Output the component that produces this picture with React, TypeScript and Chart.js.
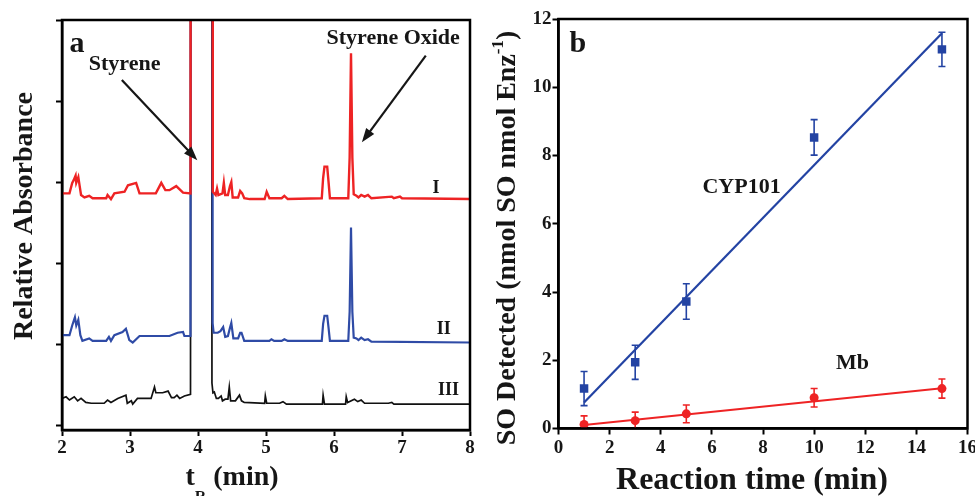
import React, { useEffect, useRef } from 'react';
import { Chart, registerables } from 'chart.js';

Chart.register(...registerables);

const SERIF = '"Liberation Serif", "Times New Roman", Times, serif';
const RED = '#ee2324';
const BLUE_A = '#2f4ba6';
const BLUE_B = '#2343a3';
const INK = '#161616';

// ---------------- Panel a : chromatograms (t_R in min, relative absorbance) ----------------
const traceI_t = [2.00, 2.11, 2.15, 2.17, 2.20, 2.21, 2.24, 2.26, 2.28, 2.33, 2.40, 2.45, 2.65, 2.67, 2.72, 2.77, 2.92, 2.97, 3.09, 3.14, 3.38, 3.46, 3.52, 3.58, 3.68, 3.78, 3.89,
  3.90, 4.21,
  4.215, 4.22, 4.26, 4.28, 4.30, 4.36, 4.38, 4.40, 4.44, 4.47, 4.49, 4.51, 4.59, 4.62, 4.65, 4.68, 4.76, 4.98, 5.01, 5.05, 5.23, 5.27, 5.32, 5.82, 5.84, 5.86, 5.90, 5.92, 5.94,
  6.21, 6.23, 6.25, 6.27, 6.29, 6.33, 6.36, 6.40, 6.45, 6.50, 6.55, 6.85, 6.88, 6.97, 7.00, 8.00];
const traceI_abs = [2.86, 2.86, 2.99, 3.02, 3.08, 2.99, 3.06, 2.95, 2.84, 2.81, 2.83, 2.80, 2.80, 2.84, 2.79, 2.86, 2.88, 2.96, 2.99, 2.86, 2.86, 2.99, 2.90, 2.90, 2.95, 2.87, 2.86,
  20, 20,
  2.99, 2.88, 2.84, 2.92, 2.84, 2.86, 2.99, 2.84, 2.84, 2.95, 3.00, 2.81, 2.81, 2.89, 2.86, 2.80, 2.79, 2.79, 2.88, 2.80, 2.80, 2.83, 2.79, 2.80, 3.05, 3.19, 3.19, 3.00, 2.80,
  2.80, 3.30, 4.59, 3.30, 2.85, 2.83, 2.81, 2.84, 2.82, 2.84, 2.80, 2.82, 2.80, 2.82, 2.80, 2.79];

const traceII_t = [2.00, 2.11, 2.15, 2.17, 2.19, 2.21, 2.24, 2.27, 2.30, 2.40, 2.45, 2.65, 2.69, 2.72, 2.77, 2.89, 2.94, 2.99, 3.04, 3.14, 3.58, 3.70, 3.78, 3.80, 3.89,
  3.90, 4.21,
  4.215, 4.23, 4.29, 4.33, 4.37, 4.40, 4.44, 4.47, 4.49, 4.52, 4.59, 4.62, 4.64, 4.68, 4.76, 5.05, 5.08, 5.12, 5.23, 5.27, 5.32, 5.82, 5.84, 5.86, 5.90, 5.92, 5.94,
  6.21, 6.23, 6.25, 6.27, 6.29, 6.33, 6.36, 6.40, 6.45, 6.50, 6.55, 8.00];
const traceII_abs = [1.11, 1.11, 1.23, 1.28, 1.33, 1.23, 1.30, 1.11, 1.04, 1.07, 1.04, 1.04, 1.09, 1.04, 1.11, 1.15, 1.19, 1.05, 1.02, 1.10, 1.10, 1.14, 1.15, 1.10, 1.10,
  20, 20,
  1.26, 1.14, 1.14, 1.16, 1.21, 1.09, 1.10, 1.20, 1.26, 1.07, 1.07, 1.14, 1.14, 1.04, 1.04, 1.04, 1.06, 1.04, 1.04, 1.06, 1.04, 1.04, 1.25, 1.35, 1.35, 1.20, 1.04,
  1.04, 1.40, 2.44, 1.40, 1.08, 1.07, 1.05, 1.08, 1.05, 1.06, 1.03, 1.02];

const traceIII_t = [2.00, 2.06, 2.11, 2.18, 2.23, 2.28, 2.35, 2.43, 2.62, 2.67, 2.72, 2.82, 2.94, 2.96, 3.02, 3.04, 3.11, 3.31, 3.36, 3.38, 3.48, 3.56, 3.61, 3.65, 3.69, 3.73, 3.80, 3.89,
  3.90, 4.20,
  4.205, 4.22, 4.24, 4.27, 4.30, 4.34, 4.36, 4.40, 4.44, 4.46, 4.48, 4.55, 4.61, 4.64, 4.68, 4.98, 4.99, 5.01, 5.20, 5.25, 5.30, 5.83, 5.84, 5.86, 6.17, 6.18, 6.20, 6.30, 6.35, 6.40, 6.45, 6.80, 6.85, 6.88, 8.00];
const traceIII_abs = [0.33, 0.35, 0.31, 0.35, 0.30, 0.33, 0.28, 0.27, 0.27, 0.31, 0.28, 0.33, 0.37, 0.27, 0.30, 0.26, 0.33, 0.33, 0.47, 0.40, 0.40, 0.42, 0.34, 0.34, 0.37, 0.33, 0.36, 0.38,
  20, 20,
  0.52, 0.40, 0.41, 0.33, 0.33, 0.36, 0.30, 0.32, 0.32, 0.47, 0.30, 0.30, 0.37, 0.30, 0.28, 0.27, 0.36, 0.27, 0.27, 0.29, 0.26, 0.26, 0.37, 0.26, 0.26, 0.35, 0.28, 0.32, 0.29, 0.31, 0.27, 0.27, 0.28, 0.26, 0.26];

const tickA_x = [2, 3, 4, 5, 6, 7, 8];
const tickA_y = [0, 1, 2, 3, 4, 5];

// ---------------- Panel b : SO detected vs reaction time ----------------
const reactionTime = [1, 3, 5, 10, 15];
const cyp101_SO = [1.17, 1.94, 3.72, 8.53, 11.11];
const cyp101_err = [0.5, 0.5, 0.52, 0.52, 0.5];
const mb_SO = [0.12, 0.23, 0.43, 0.90, 1.17];
const mb_err = [0.25, 0.25, 0.26, 0.27, 0.28];
const fit_t = [1, 15];
const cyp101_fit = [0.76, 11.58];
const mb_fit = [0.10, 1.18];

const tickB_x = [0, 2, 4, 6, 8, 10, 12, 14, 16];
const tickB_y = [0, 2, 4, 6, 8, 10, 12];

const pairs = (xs: number[], ys: number[]) => xs.map((x, i) => ({ x, y: ys[i] }));
const bold = (size: number) => `bold ${size}px ${SERIF}`;

type Part = { text: string; size: number; dy: number };
function drawParts(ctx: CanvasRenderingContext2D, parts: Part[], cx: number, cy: number, angle: number) {
  ctx.save();
  ctx.translate(cx, cy);
  ctx.rotate(angle);
  ctx.textAlign = 'left';
  ctx.textBaseline = 'alphabetic';
  ctx.fillStyle = INK;
  let total = 0;
  const w = parts.map((p) => {
    ctx.font = bold(p.size);
    const m = ctx.measureText(p.text).width;
    total += m;
    return m;
  });
  let x = -total / 2;
  parts.forEach((p, i) => {
    ctx.font = bold(p.size);
    ctx.fillText(p.text, x, p.dy);
    x += w[i];
  });
  ctx.restore();
}

function drawArrow(ctx: CanvasRenderingContext2D, x1: number, y1: number, x2: number, y2: number) {
  const a = Math.atan2(y2 - y1, x2 - x1);
  const L = 14, W = 5;
  ctx.save();
  ctx.strokeStyle = INK;
  ctx.fillStyle = INK;
  ctx.lineWidth = 2.2;
  ctx.beginPath();
  ctx.moveTo(x1, y1);
  ctx.lineTo(x2 - L * 0.8 * Math.cos(a), y2 - L * 0.8 * Math.sin(a));
  ctx.stroke();
  ctx.beginPath();
  ctx.moveTo(x2, y2);
  ctx.lineTo(x2 - L * Math.cos(a) + W * Math.sin(a), y2 - L * Math.sin(a) - W * Math.cos(a));
  ctx.lineTo(x2 - L * Math.cos(a) - W * Math.sin(a), y2 - L * Math.sin(a) + W * Math.cos(a));
  ctx.closePath();
  ctx.fill();
  ctx.restore();
}

function label(ctx: CanvasRenderingContext2D, text: string, px: number, py: number, size: number, align: CanvasTextAlign) {
  ctx.save();
  ctx.font = bold(size);
  ctx.fillStyle = INK;
  ctx.textAlign = align;
  ctx.textBaseline = 'alphabetic';
  ctx.fillText(text, px, py);
  ctx.restore();
}

function frame(chart: any) {
  const { ctx, chartArea: a } = chart;
  ctx.save();
  ctx.strokeStyle = '#000';
  ctx.lineWidth = 2.5;
  ctx.strokeRect(a.left, a.top, a.right - a.left, a.bottom - a.top);
  ctx.restore();
}

const panelAPlugin = {
  id: 'panelA',
  afterDraw(chart: any) {
    const { ctx, scales } = chart;
    const X = (v: number) => scales.x.getPixelForValue(v);
    const Y = (v: number) => scales.y.getPixelForValue(v);
    frame(chart);
    label(ctx, 'a', X(2.11), Y(4.60), 30, 'left');
    label(ctx, 'Styrene', X(2.92), Y(4.38), 22, 'center');
    label(ctx, 'Styrene Oxide', X(6.87), Y(4.70), 22, 'center');
    label(ctx, 'I', X(7.45), Y(2.86), 18, 'left');
    label(ctx, 'II', X(7.51), Y(1.12), 18, 'left');
    label(ctx, 'III', X(7.53), Y(0.37), 18, 'left');
    drawArrow(ctx, X(2.88), Y(4.26), X(3.99), Y(3.27));
    drawArrow(ctx, X(7.35), Y(4.56), X(6.41), Y(3.49));
    // axis titles
    drawParts(ctx, [
      { text: 't', size: 28, dy: 0 },
      { text: 'R', size: 16, dy: 17 },
      { text: ' (min)', size: 28, dy: 0 },
    ], 232, 485, 0);
    drawParts(ctx, [{ text: 'Relative Absorbance', size: 28, dy: 0 }], 32, 216, -Math.PI / 2);
  },
};

const errorBarPlugin = {
  id: 'errorBars',
  beforeDatasetsDraw(chart: any) {
    const { ctx, chartArea: a, scales } = chart;
    const sets: [number[], number[], string][] = [
      [cyp101_SO, cyp101_err, BLUE_B],
      [mb_SO, mb_err, RED],
    ];
    ctx.save();
    ctx.beginPath();
    ctx.rect(a.left, a.top - 3, a.right - a.left, a.bottom - a.top + 3);
    ctx.clip();
    sets.forEach(([vals, errs, col]) => {
      ctx.strokeStyle = col;
      ctx.lineWidth = 1.6;
      reactionTime.forEach((t, i) => {
        const px = scales.x.getPixelForValue(t);
        const top = scales.y.getPixelForValue(vals[i] + errs[i]);
        const bot = scales.y.getPixelForValue(vals[i] - errs[i]);
        ctx.beginPath();
        ctx.moveTo(px, top);
        ctx.lineTo(px, bot);
        ctx.moveTo(px - 3.5, top);
        ctx.lineTo(px + 3.5, top);
        ctx.moveTo(px - 3.5, bot);
        ctx.lineTo(px + 3.5, bot);
        ctx.stroke();
      });
    });
    ctx.restore();
  },
};

const panelBPlugin = {
  id: 'panelB',
  afterDraw(chart: any) {
    const { ctx, scales } = chart;
    const X = (v: number) => scales.x.getPixelForValue(v);
    const Y = (v: number) => scales.y.getPixelForValue(v);
    frame(chart);
    label(ctx, 'b', X(0.43), Y(11.03), 30, 'left');
    label(ctx, 'CYP101', X(7.16), Y(6.89), 22, 'center');
    label(ctx, 'Mb', X(11.5), Y(1.73), 22, 'center');
    drawParts(ctx, [{ text: 'Reaction time (min)', size: 32, dy: 0 }], 272, 489, 0);
    drawParts(ctx, [
      { text: 'SO Detected (nmol SO nmol Enz', size: 28, dy: 0 },
      { text: '-1', size: 17, dy: -12 },
      { text: ')', size: 28, dy: 0 },
    ], 35, 238, -Math.PI / 2);
  },
};

function axis(min: number, max: number, ticks: number[], size: number | null, fixed: { w?: number; h?: number }, pad: number) {
  return {
    type: 'linear',
    min,
    max,
    afterBuildTicks: (s: any) => {
      s.ticks = ticks.map((v) => ({ value: v }));
    },
    afterFit: (s: any) => {
      if (fixed.w !== undefined) s.width = fixed.w;
      if (fixed.h !== undefined) s.height = fixed.h;
      s.paddingLeft = 0;
      s.paddingRight = 0;
      s.paddingTop = 0;
      s.paddingBottom = 0;
    },
    grid: { display: true, drawOnChartArea: false, drawTicks: true, tickLength: 6, tickColor: '#000', tickWidth: 2 },
    border: { display: true, color: '#000', width: 2.5 },
    ticks: {
      color: INK,
      font: { family: SERIF, size: size || 12, weight: 'bold' },
      padding: pad,
      maxRotation: 0,
      autoSkip: false,
      callback: (v: any) => (size ? String(v) : ''),
    },
  };
}

export default function App() {
  const refA = useRef<HTMLCanvasElement | null>(null);
  const refB = useRef<HTMLCanvasElement | null>(null);

  useEffect(() => {
    const lineDs = (xs: number[], ys: number[], color: string, width: number) => ({
      data: pairs(xs, ys),
      borderColor: color,
      backgroundColor: color,
      borderWidth: width,
      pointRadius: 0,
      tension: 0,
      fill: false,
    });

    const chartA = new Chart(refA.current as HTMLCanvasElement, {
      type: 'line',
      data: {
        datasets: [
          lineDs(traceI_t, traceI_abs, RED, 2.4),
          lineDs(traceII_t, traceII_abs, BLUE_A, 2.2),
          lineDs(traceIII_t, traceIII_abs, '#111111', 1.7),
        ],
      },
      options: {
        animation: false,
        responsive: false,
        maintainAspectRatio: false,
        layout: { padding: { left: 0, right: 10, top: 20, bottom: 0 } },
        plugins: { legend: { display: false }, tooltip: { enabled: false } },
        scales: {
          x: axis(2, 8, tickA_x, 19, { h: 66 }, 1),
          y: axis(-0.06, 5, tickA_y, null, { w: 62 }, 0),
        },
      } as any,
      plugins: [panelAPlugin],
    } as any);

    const chartB = new Chart(refB.current as HTMLCanvasElement, {
      type: 'line',
      data: {
        datasets: [
          {
            data: pairs(reactionTime, cyp101_SO),
            showLine: false,
            pointStyle: 'rect',
            pointRadius: 6,
            backgroundColor: BLUE_B,
            borderColor: BLUE_B,
            borderWidth: 0,
          },
          {
            data: pairs(reactionTime, mb_SO),
            showLine: false,
            pointStyle: 'circle',
            pointRadius: 4.5,
            backgroundColor: RED,
            borderColor: RED,
            borderWidth: 0,
          },
          lineDs(fit_t, cyp101_fit, BLUE_B, 2.2),
          lineDs(fit_t, mb_fit, RED, 2.0),
        ],
      },
      options: {
        animation: false,
        responsive: false,
        maintainAspectRatio: false,
        layout: { padding: { left: 0, right: 7.5, top: 19, bottom: 0 } },
        plugins: { legend: { display: false }, tooltip: { enabled: false } },
        scales: {
          x: axis(0, 16, tickB_x, 19, { h: 67.5 }, 2),
          y: axis(0, 12, tickB_y, 19, { w: 78.5 }, 1),
        },
      } as any,
      plugins: [errorBarPlugin, panelBPlugin],
    } as any);

    return () => {
      chartA.destroy();
      chartB.destroy();
    };
  }, []);

  return (
    <div style={{ position: 'absolute', left: 0, top: 0, width: 975, height: 496, overflow: 'hidden', background: '#fff' }}>
      <canvas ref={refA} width={480} height={496} style={{ position: 'absolute', left: 0, top: 0, width: 480, height: 496 }} />
      <canvas ref={refB} width={495} height={496} style={{ position: 'absolute', left: 480, top: 0, width: 495, height: 496 }} />
    </div>
  );
}
